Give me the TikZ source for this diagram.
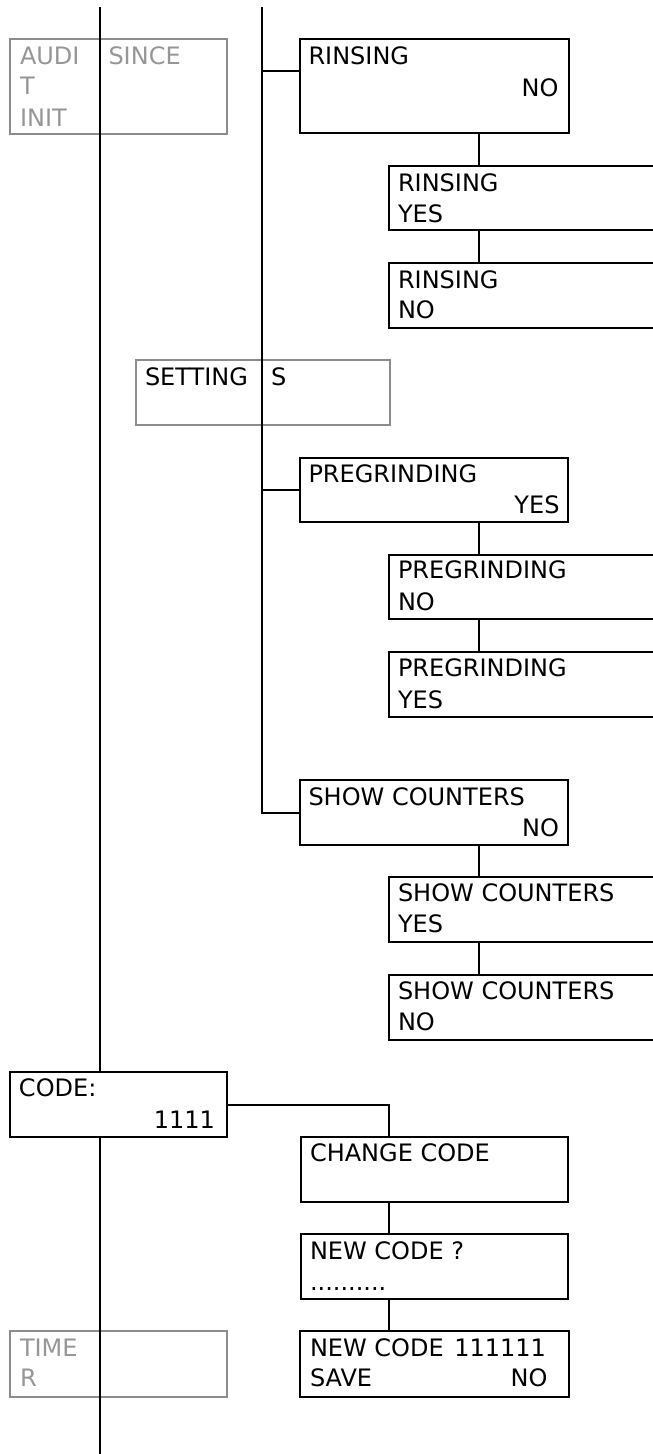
\documentclass[tikz,border=0pt]{standalone}
\usepackage{fontspec}
\setmainfont{DejaVu Sans}
\usetikzlibrary{calc}
\definecolor{greytxt}{RGB}{150,150,150}
\definecolor{greyline}{RGB}{140,140,140}
\tikzset{
  every picture/.style={x=1pt,y=-1pt},
  lcd/.style={draw=black,line width=2pt,rectangle,inner sep=0pt,outer sep=0pt},
  ghost/.style={draw=greyline,line width=2pt,rectangle,inner sep=0pt,outer sep=0pt},
  conn/.style={draw=black,line width=2pt},
  tl/.style={inner sep=0pt,outer sep=0pt,anchor=base west,font=\fontsize{24}{30}\selectfont},
  tr/.style={inner sep=0pt,outer sep=0pt,anchor=base east,font=\fontsize{24}{30}\selectfont},
  gt/.style={text=greytxt},
}
\newcommand{\lcdbox}[6]{\node[#1,minimum width=#4-#2,minimum height=#5-#3] (#6) at ({(#2+#4)/2},{(#3+#5)/2}) {};}
\begin{document}
\begin{tikzpicture}
\useasboundingbox (0,0) rectangle (653,1454);
\clip (0,0) rectangle (653,1454);
% boxes
\lcdbox{ghost}{10}{39}{227}{134}{audit}
\lcdbox{lcd}{300}{39}{569}{133}{r1}
\lcdbox{lcd}{389}{166}{700}{230}{r2}
\lcdbox{lcd}{389}{263}{700}{328}{r3}
\lcdbox{ghost}{136}{360}{390}{425}{set}
\lcdbox{lcd}{300}{458}{568}{522}{p1}
\lcdbox{lcd}{389}{555}{700}{619}{p2}
\lcdbox{lcd}{389}{652}{700}{717}{p3}
\lcdbox{lcd}{300}{780}{568}{845}{s1}
\lcdbox{lcd}{389}{877}{700}{942}{s2}
\lcdbox{lcd}{389}{975}{700}{1040}{s3}
\lcdbox{lcd}{10}{1072}{227}{1137}{code}
\lcdbox{lcd}{300.5}{1137}{568}{1202}{cc}
\lcdbox{lcd}{300.5}{1234}{568}{1299}{nc}
\lcdbox{lcd}{300}{1331}{568.5}{1397}{ns}
\lcdbox{ghost}{10}{1331}{227}{1397}{timer}
% coordinates
\coordinate (t1) at (100,7);
\coordinate (b1) at (100,1454);
\coordinate (t2) at (262,7);
\coordinate (cx1) at (479,0);
\coordinate (cx2) at (389.3,0);
\coordinate (r1c) at ($(r1.north west)+(0,32)$);
% connectors
\draw[conn] (t1) -- (t1 |- code.north);
\draw[conn] (t1 |- code.south) -- (b1);
\draw[conn] (t2) -- (t2 |- s1.west) -- (s1.west);
\draw[conn] (t2 |- r1c) -- (r1c);
\draw[conn] (t2 |- p1.west) -- (p1.west);
\draw[conn] (r1.south -| cx1) -- (r2.north -| cx1);
\draw[conn] (r2.south -| cx1) -- (r3.north -| cx1);
\draw[conn] (p1.south -| cx1) -- (p2.north -| cx1);
\draw[conn] (p2.south -| cx1) -- (p3.north -| cx1);
\draw[conn] (s1.south -| cx1) -- (s2.north -| cx1);
\draw[conn] (s2.south -| cx1) -- (s3.north -| cx1);
\draw[conn] (code.east) -| (cc.north -| cx2);
\draw[conn] (cc.south -| cx2) -- (nc.north -| cx2);
\draw[conn] (nc.south -| cx2) -- (ns.north -| cx2);
% texts
\node[tl,gt] (a1) at (20,64.3) {AUDI};
\node[tl,gt] (a2) at (20,94.3) {T};
\node[tl,gt] (a3) at (20,126.7) {INIT};
\node[tl,gt] (a4) at (108.5,64.3) {SINCE};
\node[tl] (r1a) at (308.5,64.3) {RINSING};
\node[tr] (r1b) at (558.5,96.7) {NO};
\node[tl] (r2a) at (398,191.7) {RINSING};
\node[tl] (r2b) at (398,222.3) {YES};
\node[tl] (r3a) at (398,288.3) {RINSING};
\node[tl] (r3b) at (398,318.3) {NO};
\node[tl] (sa) at (145,385) {SETTING};
\node[tl] (sb) at (271,385) {S};
\node[tl] (p1a) at (308.5,482.3) {PREGRINDING};
\node[tr] (p1b) at (559.5,513.3) {YES};
\node[tl] (p2a) at (398,578.3) {PREGRINDING};
\node[tl] (p2b) at (398,610) {NO};
\node[tl] (p3a) at (398,676) {PREGRINDING};
\node[tl] (p3b) at (398,708) {YES};
\node[tl] (s1a) at (308.5,805) {SHOW COUNTERS};
\node[tr] (s1b) at (559,836) {NO};
\node[tl] (s2a) at (398,901.7) {SHOW COUNTERS};
\node[tl] (s2b) at (398,932.7) {YES};
\node[tl] (s3a) at (398,999.3) {SHOW COUNTERS};
\node[tl] (s3b) at (398,1030.7) {NO};
\node[tl] (ca) at (19,1096.7) {CODE:};
\node[tr] (cb) at (215,1128.3) {1111};
\node[tl] (cca) at (310,1161.7) {CHANGE CODE};
\node[tl] (nca) at (310,1259.3) {NEW CODE ?};
\node[tl] (ncb) at (310,1290.7) {..........};
\node[tl] (nsa) at (310,1356) {NEW CODE};
\node[tr] (nsb) at (546,1356) {111111};
\node[tl] (nsc) at (310,1386.7) {SAVE};
\node[tr] (nsd) at (547.5,1386.7) {NO};
\node[tl,gt] (ta) at (20,1356) {TIME};
\node[tl,gt] (tb) at (20,1386.7) {R};
\end{tikzpicture}
\end{document}
